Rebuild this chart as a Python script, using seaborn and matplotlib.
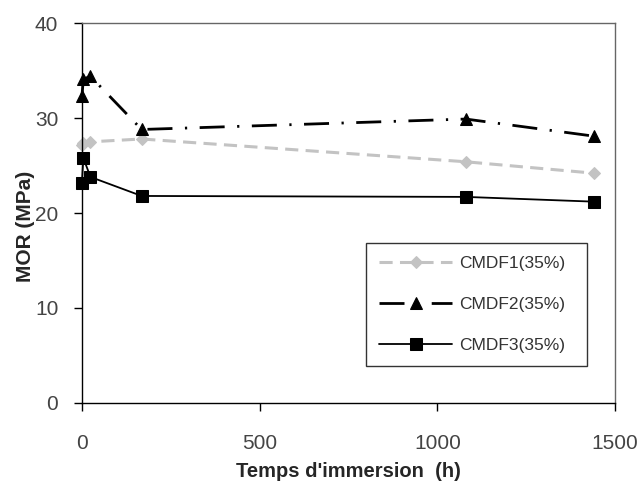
import matplotlib
matplotlib.use("Agg")
import matplotlib.pyplot as plt
import seaborn as sns
import pandas as pd

# Data
temps = [0, 4, 24, 168, 1080, 1440]
cmdf1 = [27.2, 27.4, 27.5, 27.8, 25.4, 24.2]
cmdf2 = [32.3, 34.1, 34.4, 28.8, 29.9, 28.1]
cmdf3 = [23.2, 25.8, 23.8, 21.8, 21.7, 21.2]
labels = ["CMDF1(35%)", "CMDF2(35%)", "CMDF3(35%)"]
xticks = [0, 500, 1000, 1500]
yticks = [0, 10, 20, 30, 40]

sns.set_style("white")
plt.rcParams['font.family'] = ['Liberation Sans', 'DejaVu Sans']

fig = plt.figure(figsize=(6.4, 4.82), dpi=100)
ax = fig.add_axes([0.128, 0.164, 0.833, 0.788])

df1 = pd.DataFrame({"t": temps, "v": cmdf1})
df2 = pd.DataFrame({"t": temps, "v": cmdf2})
df3 = pd.DataFrame({"t": temps, "v": cmdf3})

sns.lineplot(data=df1, x="t", y="v", ax=ax, estimator=None, sort=False,
             color="#c3c3c3", lw=2.2, linestyle=(0, (4.3, 2.4)),
             marker="D", markersize=6, markerfacecolor="#c3c3c3",
             markeredgecolor="#c3c3c3", label=labels[0], clip_on=False)
sns.lineplot(data=df2, x="t", y="v", ax=ax, estimator=None, sort=False,
             color="black", lw=2.0, linestyle=(0, (9, 4.5, 0.8, 4.5)),
             marker="^", markersize=9, markerfacecolor="black",
             markeredgecolor="black", label=labels[1], clip_on=False)
sns.lineplot(data=df3, x="t", y="v", ax=ax, estimator=None, sort=False,
             color="black", lw=1.3, linestyle="-",
             marker="s", markersize=8.5, markerfacecolor="black",
             markeredgecolor="black", label=labels[2], clip_on=False)

ax.set_xlim(0, 1500)
ax.set_ylim(0, 40)
ax.set_xticks(xticks)
ax.set_yticks(yticks)
ax.set_xticklabels([str(v) for v in xticks])
ax.set_yticklabels([str(v) for v in yticks])
ax.tick_params(axis="both", direction="out", length=6, width=1, color="black",
               labelsize=15, labelcolor="#444444", bottom=True, left=True)
ax.tick_params(axis="x", pad=16)
ax.tick_params(axis="y", pad=11)

for s in ["left", "bottom"]:
    ax.spines[s].set_color("black")
    ax.spines[s].set_linewidth(1.0)
for s in ["top", "right"]:
    ax.spines[s].set_color("#666666")
    ax.spines[s].set_linewidth(1.0)

ax.set_xlabel("Temps d'immersion  (h)", fontsize=14.5, fontweight="bold", labelpad=7)
ax.set_ylabel("MOR (MPa)", fontsize=15, fontweight="bold", labelpad=1)
ax.yaxis.set_label_coords(-0.088, 0.466)

leg = ax.legend(loc="lower left", bbox_to_anchor=(0.533, 0.097, 0.414, 0.323),
                mode="expand", fontsize=12.5, frameon=True, fancybox=False,
                handlelength=4.2, labelspacing=1.5, borderpad=0.75,
                handletextpad=0.4, borderaxespad=0)
leg.get_frame().set_edgecolor("black")
leg.get_frame().set_linewidth(1.0)
for t in leg.get_texts():
    t.set_color("#333333")

fig.savefig("out.png", dpi=100)
